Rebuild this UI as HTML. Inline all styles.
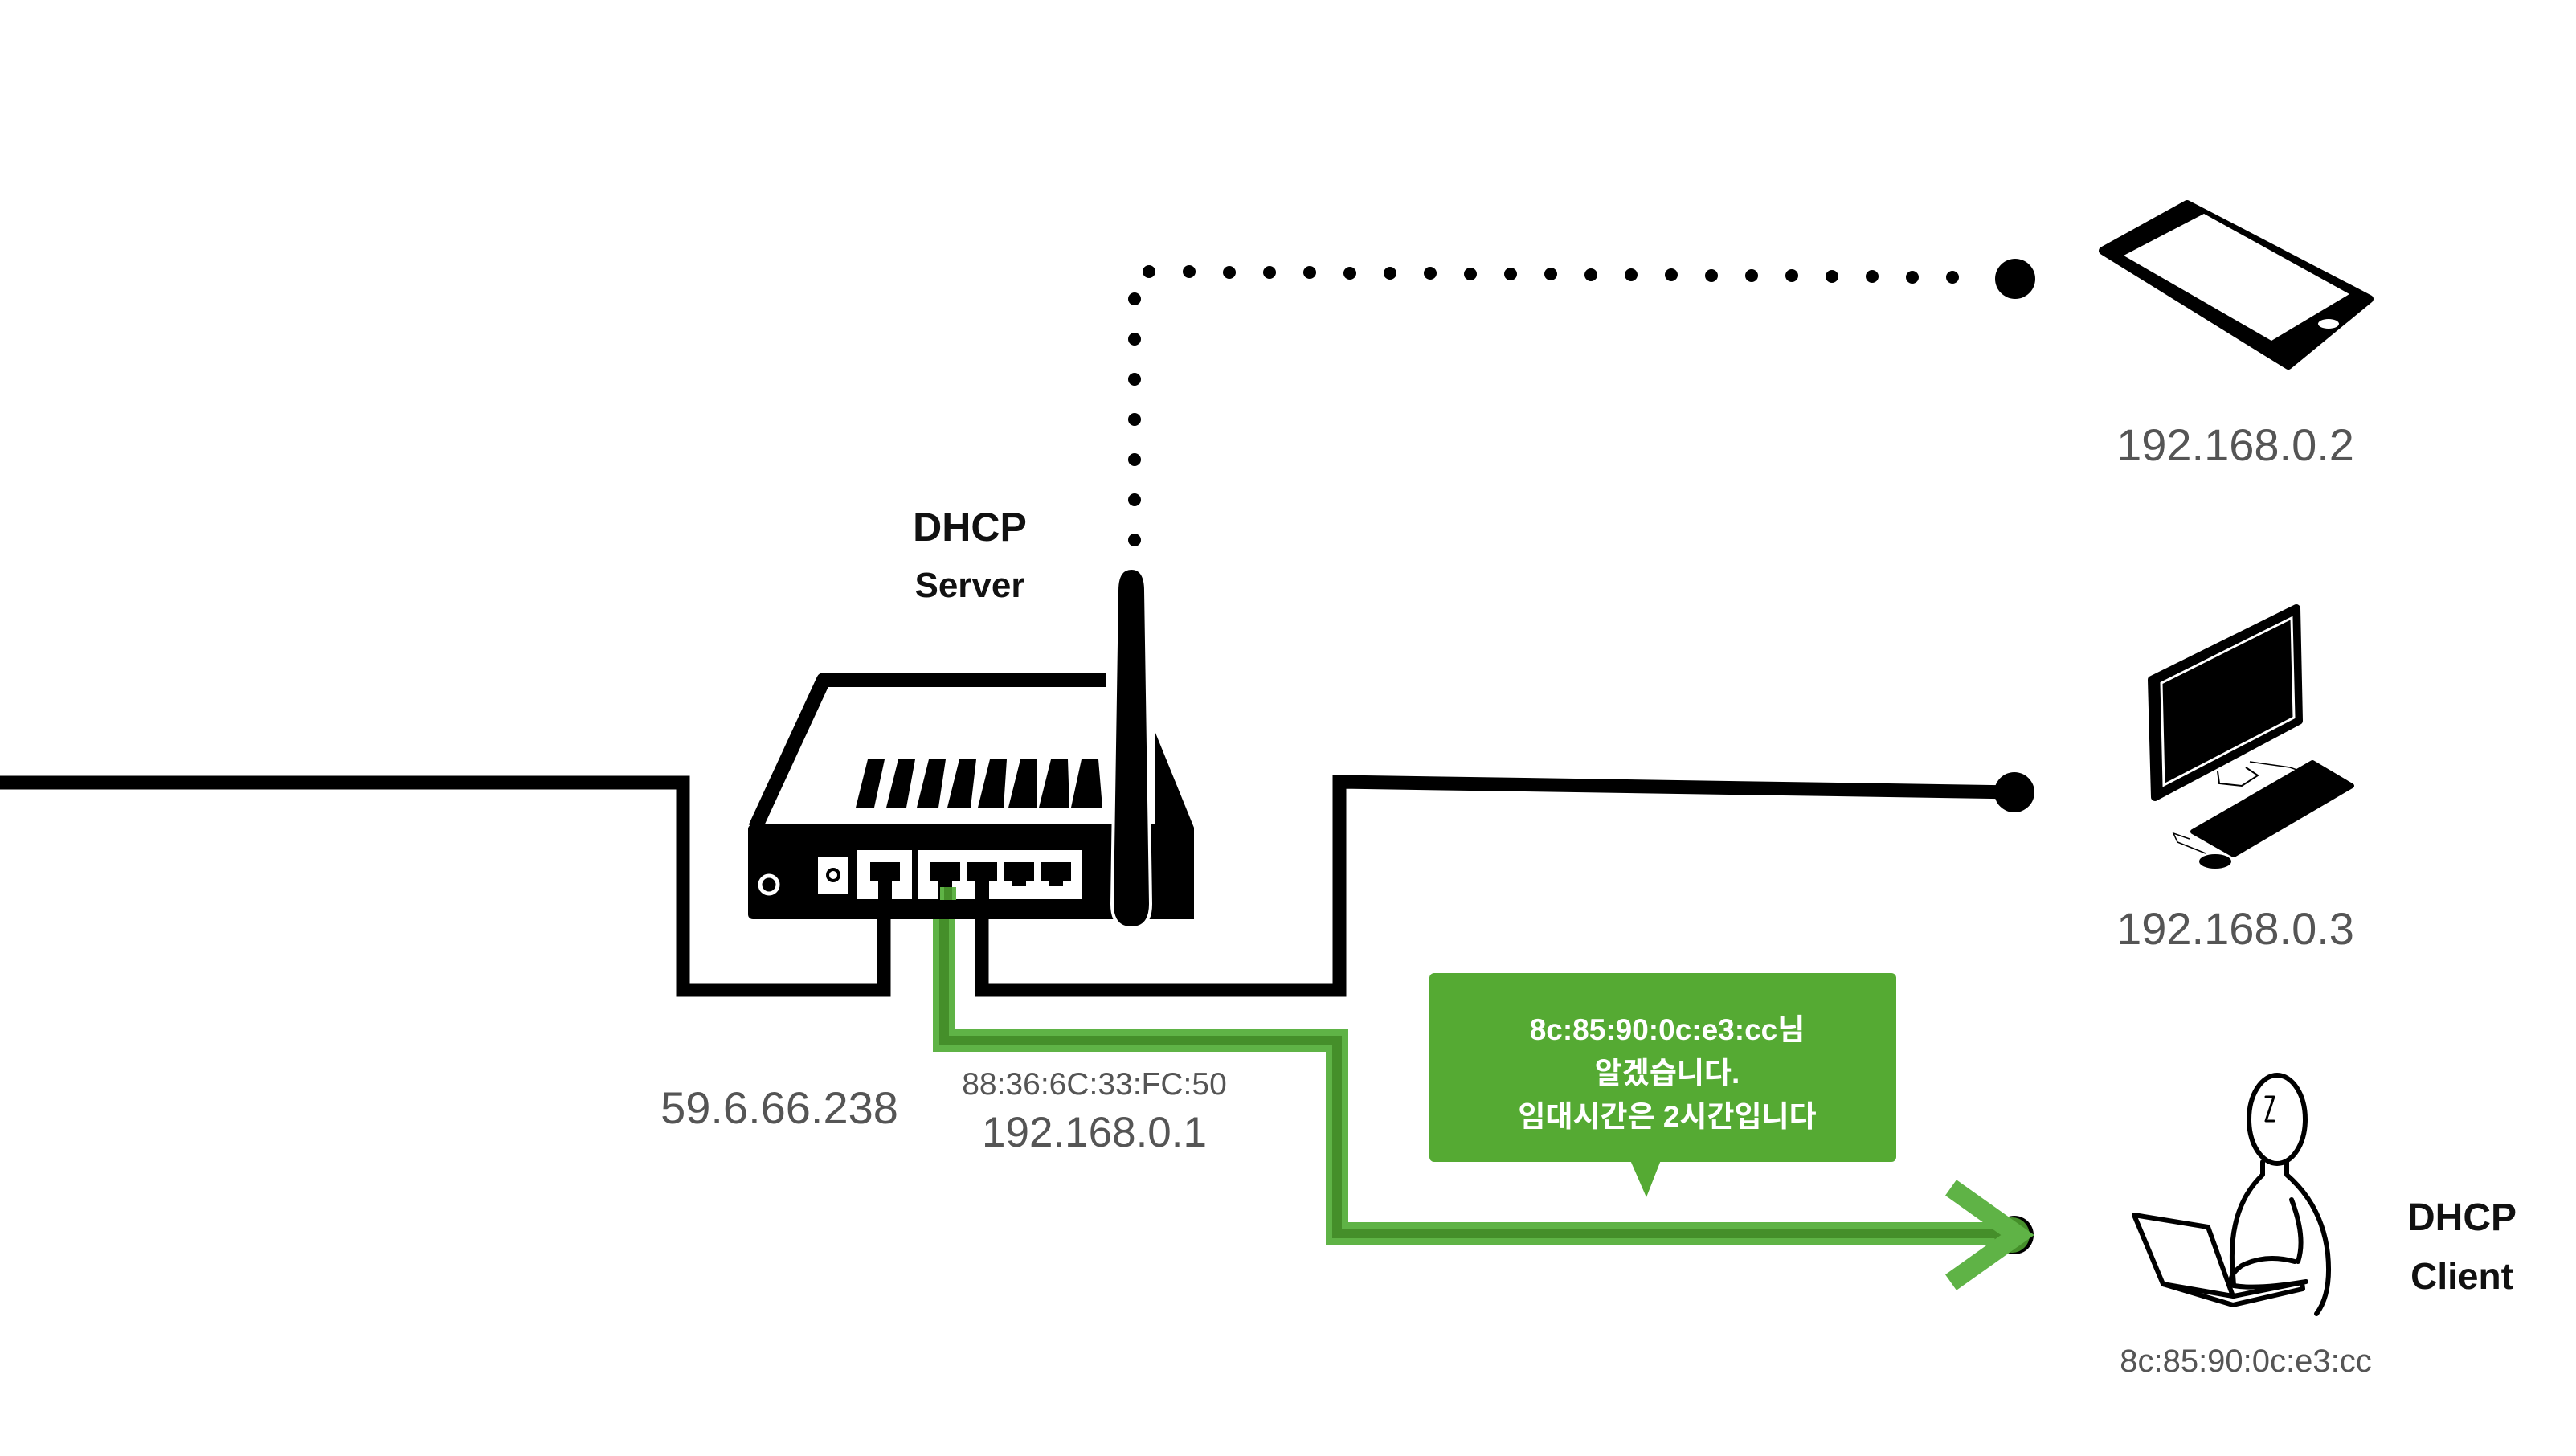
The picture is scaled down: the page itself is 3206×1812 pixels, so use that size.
<!DOCTYPE html>
<html><head><meta charset="utf-8"><style>
html,body{margin:0;padding:0;background:#fff;}
svg{display:block;}
</style></head><body>
<svg width="3206" height="1812" viewBox="0 0 3206 1812" xmlns="http://www.w3.org/2000/svg">
<rect width="3206" height="1812" fill="#fff"/>
<polyline points="0,974 850,974 850,1232 1100,1232 1100,1110" fill="none" stroke="#000" stroke-width="17"/>
<polyline points="1222,1110 1222,1232 1667,1232 1667,973 2511,986" fill="none" stroke="#000" stroke-width="17"/>
<circle cx="2507" cy="986" r="25" fill="#000"/>
<g fill="#000">
<circle cx="1412" cy="672" r="8"/><circle cx="1412" cy="622" r="8"/><circle cx="1412" cy="572" r="8"/><circle cx="1412" cy="522" r="8"/><circle cx="1412" cy="472" r="8"/><circle cx="1412" cy="422" r="8"/><circle cx="1412" cy="372" r="8"/>
<circle cx="1430" cy="338" r="8"/><circle cx="1480" cy="338" r="8"/><circle cx="1530" cy="339" r="8"/><circle cx="1580" cy="339" r="8"/><circle cx="1630" cy="339" r="8"/><circle cx="1680" cy="340" r="8"/><circle cx="1730" cy="340" r="8"/><circle cx="1780" cy="340" r="8"/><circle cx="1830" cy="341" r="8"/><circle cx="1880" cy="341" r="8"/><circle cx="1930" cy="341" r="8"/><circle cx="1980" cy="342" r="8"/><circle cx="2030" cy="342" r="8"/><circle cx="2080" cy="342" r="8"/><circle cx="2130" cy="343" r="8"/><circle cx="2180" cy="343" r="8"/><circle cx="2230" cy="343" r="8"/><circle cx="2280" cy="344" r="8"/><circle cx="2330" cy="344" r="8"/><circle cx="2380" cy="345" r="8"/><circle cx="2430" cy="345" r="8"/>
<circle cx="2508" cy="347" r="25"/>
</g>
<polyline points="1175,1104 1175,1295 1664,1295 1664,1535 2500,1535" fill="none" stroke="#5fb346" stroke-width="28"/>
<polyline points="1175,1104 1175,1295 1664,1295 1664,1535 2500,1535" fill="none" stroke="#458f2a" stroke-width="12"/>
<circle cx="2507" cy="1537" r="24" fill="#000"/>
<circle cx="2504" cy="1537" r="22" fill="#458f2a"/>
<polyline points="2428,1478 2511,1537 2428,1596" fill="none" stroke="#5fb346" stroke-width="24"/>
<path d="M1377,846 L1025,846 L940,1030" fill="none" stroke="#000" stroke-width="18" stroke-linejoin="round"/>
<rect x="931" y="1026" width="555" height="118" rx="6" fill="#000"/>
<path d="M1438,912 L1486,1030 L1486,1144 L1438,1144 Z" fill="#000"/>
<g fill="#000">
<polygon points="1080,945 1101,945 1088,1005 1065,1005"/>
<polygon points="1118,945 1139,945 1128,1005 1103,1005"/>
<polygon points="1156,945 1177,945 1168,1005 1141,1005"/>
<polygon points="1194,945 1215,945 1208,1005 1179,1005"/>
<polygon points="1232,945 1253,945 1249,1005 1217,1005"/>
<polygon points="1270,945 1291,945 1290,1005 1255,1005"/>
<polygon points="1308,945 1329,945 1331,1005 1293,1005"/>
<polygon points="1346,945 1367,945 1372,1005 1333,1005"/>
</g>
<circle cx="957" cy="1101" r="11" fill="none" stroke="#fff" stroke-width="5"/>
<rect x="1018" y="1066" width="38" height="46" fill="#fff"/>
<circle cx="1037" cy="1089" r="7" fill="none" stroke="#000" stroke-width="4"/>
<rect x="1067" y="1058" width="68" height="61" fill="#fff"/>
<rect x="1143" y="1058" width="204" height="61" fill="#fff"/>
<g fill="#000">
<path d="M1083,1073 h37 v24 h-10 v22 h-17 v-22 h-10 z"/>
<path d="M1158,1073 h37 v24 h-10 v22 h-17 v-22 h-10 z"/>
<path d="M1204,1073 h37 v24 h-10 v22 h-17 v-22 h-10 z"/>
<rect x="1250" y="1073" width="37" height="24"/><rect x="1260" y="1097" width="17" height="6"/>
<rect x="1296" y="1073" width="37" height="24"/><rect x="1306" y="1097" width="17" height="6"/>
</g>
<rect x="1170" y="1104" width="20" height="16" fill="#5fb346"/>
<rect x="1175" y="1104" width="10" height="16" fill="#458f2a"/>
<path d="M1390,735 Q1390,707 1408,707 Q1426,707 1426,735 L1432,1125 Q1432,1155 1408,1155 Q1384,1155 1384,1125 Z" fill="#000" stroke="#fff" stroke-width="4"/>
<polygon points="2617,312 2722,254 2949,372 2848,455" fill="#000" stroke="#000" stroke-width="10" stroke-linejoin="round"/>
<polygon points="2643,318 2743,266 2924,366 2827,424" fill="#fff"/>
<ellipse cx="2898" cy="403" rx="13" ry="6" fill="#fff"/>
<polygon points="2678,846 2858,757 2861,897 2682,992" fill="#000" stroke="#000" stroke-width="10" stroke-linejoin="round"/>
<polygon points="2690,850 2852,769 2855,893 2693,977" fill="#000" stroke="#fff" stroke-width="3"/>
<path d="M2760,960 L2762,975 L2790,978 L2810,965 L2795,955" fill="#fff" stroke="#000" stroke-width="2"/>
<path d="M2800,948 L2850,955 L2870,962" fill="none" stroke="#000" stroke-width="1.5"/>
<path d="M2725,1044 L2705,1037 L2710,1048 L2745,1062" fill="none" stroke="#000" stroke-width="1.5"/>
<polygon points="2729,1035 2878,949 2927,978 2780,1064" fill="#000" stroke="#000" stroke-width="6" stroke-linejoin="round"/>
<ellipse cx="2757" cy="1072" rx="20" ry="9" fill="#000"/>
<g fill="none" stroke="#000" stroke-width="6" stroke-linejoin="round" stroke-linecap="round">
<ellipse cx="2834" cy="1393" rx="35" ry="55"/>
<path d="M2820,1365 h10 l-10,30 h10" stroke-width="3"/>
<path d="M2816,1446 L2816,1462 Q2776,1500 2778,1570 L2780,1600"/>
<path d="M2846,1446 L2846,1462 Q2890,1500 2897,1560 Q2902,1610 2883,1635"/>
<path d="M2852,1493 Q2870,1540 2860,1570"/>
<path d="M2856,1570 Q2820,1560 2790,1575 Q2770,1590 2780,1600 Q2810,1605 2870,1595"/>
<polygon points="2656,1512 2748,1527 2779,1613 2692,1598"/>
<path d="M2692,1598 L2779,1624 L2866,1604 L2865,1596 L2780,1613"/>
</g>
<rect x="1779" y="1211" width="581" height="235" rx="6" fill="#55aa33"/>
<polygon points="2029,1444 2067,1444 2049,1490" fill="#55aa33"/>
<g font-family="'Liberation Sans','Noto Sans CJK KR',sans-serif" font-weight="bold" fill="#fff" font-size="37" text-anchor="middle">
<text x="2075" y="1294">8c:85:90:0c:e3:cc님</text>
<text x="2075" y="1348">알겠습니다.</text>
<text x="2075" y="1402">임대시간은 2시간입니다</text>
</g>
<g font-family="'Liberation Sans',sans-serif" font-weight="bold" fill="#111" text-anchor="middle">
<text x="1207" y="673" font-size="50">DHCP</text>
<text x="1207" y="743" font-size="44">Server</text>
<text x="3064" y="1531" font-size="48">DHCP</text>
<text x="3064" y="1604" font-size="46">Client</text>
</g>
<g font-family="'Liberation Sans',sans-serif" fill="#555" text-anchor="middle">
<text x="2782" y="573" font-size="56">192.168.0.2</text>
<text x="2782" y="1175" font-size="56">192.168.0.3</text>
<text x="970" y="1398" font-size="56">59.6.66.238</text>
<text x="1362" y="1362" font-size="39">88:36:6C:33:FC:50</text>
<text x="1362" y="1427" font-size="53">192.168.0.1</text>
<text x="2795" y="1707" font-size="40">8c:85:90:0c:e3:cc</text>
</g>
</svg>
</body></html>
